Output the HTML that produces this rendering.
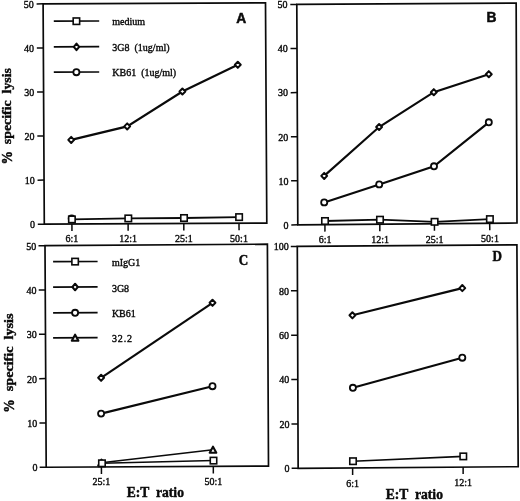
<!DOCTYPE html>
<html><head><meta charset="utf-8"><title>Figure</title>
<style>
html,body{margin:0;padding:0;background:#fff;}
body{width:520px;height:501px;overflow:hidden;}
svg{display:block;will-change:transform;opacity:0.999}
svg *{stroke:#0a0a0a}
text{stroke:#0a0a0a;stroke-width:0.38px;fill:#0a0a0a;font-family:"Liberation Serif",serif;}
.t{font-size:10px}
.sb{font-family:"Liberation Sans",sans-serif;font-weight:bold;font-size:13.8px;stroke-width:0.5px}
.rb{font-weight:bold;font-size:14.1px;stroke-width:0.45px}
.ab{font-weight:bold;font-size:14.2px;stroke-width:0.45px}
.yb{font-weight:bold;font-size:14px;stroke-width:0.45px}
.m{fill:#fff}
</style></head><body>
<svg width="520" height="501" viewBox="0 0 520 501">
<rect x="0" y="0" width="520" height="501" fill="#fff" stroke="none" style="stroke:none"/>
<path d="M43.1 3.85L265.5 2.9L266.8 223.1L44.3 224.15Z" fill="none" stroke-width="1.7" stroke-linejoin="miter"/>
<line x1="36.6" y1="3.9" x2="43.1" y2="3.85" stroke-width="1.5"/>
<text x="33.69" y="7.75" text-anchor="end" class="t">50</text>
<line x1="36.84" y1="47.96" x2="43.34" y2="47.91" stroke-width="1.5"/>
<text x="33.93" y="51.81" text-anchor="end" class="t">40</text>
<line x1="37.08" y1="92.02" x2="43.58" y2="91.97" stroke-width="1.5"/>
<text x="34.17" y="95.87" text-anchor="end" class="t">30</text>
<line x1="37.32" y1="136.08" x2="43.82" y2="136.03" stroke-width="1.5"/>
<text x="34.41" y="139.93" text-anchor="end" class="t">20</text>
<line x1="37.56" y1="180.14" x2="44.06" y2="180.09" stroke-width="1.5"/>
<text x="34.65" y="183.99" text-anchor="end" class="t">10</text>
<line x1="37.8" y1="224.2" x2="44.3" y2="224.15" stroke-width="1.5"/>
<text x="34.89" y="228.05" text-anchor="end" class="t">0</text>
<path d="M296.8 4.4L516.15 3.15L517 223L297.8 224.85Z" fill="none" stroke-width="1.7" stroke-linejoin="miter"/>
<line x1="290.3" y1="4.45" x2="296.8" y2="4.4" stroke-width="1.5"/>
<text x="287.59" y="8.3" text-anchor="end" class="t">50</text>
<line x1="290.5" y1="48.54" x2="297" y2="48.49" stroke-width="1.5"/>
<text x="287.79" y="52.39" text-anchor="end" class="t">40</text>
<line x1="290.7" y1="92.63" x2="297.2" y2="92.58" stroke-width="1.5"/>
<text x="287.99" y="96.48" text-anchor="end" class="t">30</text>
<line x1="290.9" y1="136.72" x2="297.4" y2="136.67" stroke-width="1.5"/>
<text x="288.19" y="140.57" text-anchor="end" class="t">20</text>
<line x1="291.1" y1="180.81" x2="297.6" y2="180.76" stroke-width="1.5"/>
<text x="288.39" y="184.66" text-anchor="end" class="t">10</text>
<line x1="291.3" y1="224.9" x2="297.8" y2="224.85" stroke-width="1.5"/>
<text x="288.59" y="228.75" text-anchor="end" class="t">0</text>
<path d="M45 245.65L267.4 244.2L268.5 466.15L46.2 467.25Z" fill="none" stroke-width="1.7" stroke-linejoin="miter"/>
<line x1="38.5" y1="245.7" x2="45" y2="245.65" stroke-width="1.5"/>
<text x="36.19" y="249.55" text-anchor="end" class="t">50</text>
<line x1="38.74" y1="290.02" x2="45.24" y2="289.97" stroke-width="1.5"/>
<text x="36.43" y="293.87" text-anchor="end" class="t">40</text>
<line x1="38.98" y1="334.34" x2="45.48" y2="334.29" stroke-width="1.5"/>
<text x="36.67" y="338.19" text-anchor="end" class="t">30</text>
<line x1="39.22" y1="378.66" x2="45.72" y2="378.61" stroke-width="1.5"/>
<text x="36.91" y="382.51" text-anchor="end" class="t">20</text>
<line x1="39.46" y1="422.98" x2="45.96" y2="422.93" stroke-width="1.5"/>
<text x="37.15" y="426.83" text-anchor="end" class="t">10</text>
<line x1="39.7" y1="467.3" x2="46.2" y2="467.25" stroke-width="1.5"/>
<text x="37.39" y="471.15" text-anchor="end" class="t">0</text>
<path d="M297.3 246.4L516.9 244.9L518.2 466.7L298.15 468.3Z" fill="none" stroke-width="1.7" stroke-linejoin="miter"/>
<line x1="290.8" y1="246.45" x2="297.3" y2="246.4" stroke-width="1.5"/>
<text x="288.74" y="250.3" text-anchor="end" class="t">100</text>
<line x1="290.97" y1="290.83" x2="297.47" y2="290.78" stroke-width="1.5"/>
<text x="288.91" y="294.68" text-anchor="end" class="t">80</text>
<line x1="291.14" y1="335.21" x2="297.64" y2="335.16" stroke-width="1.5"/>
<text x="289.08" y="339.06" text-anchor="end" class="t">60</text>
<line x1="291.31" y1="379.59" x2="297.81" y2="379.54" stroke-width="1.5"/>
<text x="289.25" y="383.44" text-anchor="end" class="t">40</text>
<line x1="291.48" y1="423.97" x2="297.98" y2="423.92" stroke-width="1.5"/>
<text x="289.42" y="427.82" text-anchor="end" class="t">20</text>
<line x1="291.65" y1="468.35" x2="298.15" y2="468.3" stroke-width="1.5"/>
<text x="289.59" y="472.2" text-anchor="end" class="t">0</text>
<line x1="71.9" y1="224.02" x2="71.95" y2="231.02" stroke-width="1.5"/>
<text x="71.9" y="242.42" text-anchor="middle" class="t">6:1</text>
<line x1="128.1" y1="223.75" x2="128.15" y2="230.75" stroke-width="1.5"/>
<text x="128.1" y="242.15" text-anchor="middle" class="t">12:1</text>
<line x1="183.8" y1="223.49" x2="183.85" y2="230.49" stroke-width="1.5"/>
<text x="183.8" y="241.89" text-anchor="middle" class="t">25:1</text>
<line x1="239" y1="223.23" x2="239.05" y2="230.23" stroke-width="1.5"/>
<text x="239" y="241.63" text-anchor="middle" class="t">50:1</text>
<line x1="324.9" y1="224.62" x2="324.95" y2="231.62" stroke-width="1.5"/>
<text x="325.2" y="243.42" text-anchor="middle" class="t">6:1</text>
<line x1="379.8" y1="224.16" x2="379.85" y2="231.16" stroke-width="1.5"/>
<text x="380.1" y="242.96" text-anchor="middle" class="t">12:1</text>
<line x1="434.4" y1="223.7" x2="434.45" y2="230.7" stroke-width="1.5"/>
<text x="434.7" y="242.5" text-anchor="middle" class="t">25:1</text>
<line x1="489.7" y1="223.23" x2="489.75" y2="230.23" stroke-width="1.5"/>
<text x="490" y="242.03" text-anchor="middle" class="t">50:1</text>
<line x1="101.4" y1="466.98" x2="101.45" y2="473.98" stroke-width="1.5"/>
<text x="101.4" y="485.18" text-anchor="middle" class="t">25:1</text>
<line x1="213.3" y1="466.42" x2="213.35" y2="473.42" stroke-width="1.5"/>
<text x="213.3" y="484.62" text-anchor="middle" class="t">50:1</text>
<line x1="352.6" y1="467.9" x2="352.65" y2="474.9" stroke-width="1.5"/>
<text x="352.6" y="486.5" text-anchor="middle" class="t">6:1</text>
<line x1="463.1" y1="467.1" x2="463.15" y2="474.1" stroke-width="1.5"/>
<text x="463.1" y="485.7" text-anchor="middle" class="t">12:1</text>
<circle cx="71.7" cy="218.45" r="3.05" stroke-width="1.8" class="m"/>
<path d="M71.9 219.4L128.3 218.4L184 218L239.1 217.1" fill="none" stroke-width="1.85"/>
<rect x="68.68" y="216.18" width="6.45" height="6.45" stroke-width="1.6" class="m"/>
<rect x="125.08" y="215.18" width="6.45" height="6.45" stroke-width="1.6" class="m"/>
<rect x="180.78" y="214.78" width="6.45" height="6.45" stroke-width="1.6" class="m"/>
<rect x="235.88" y="213.88" width="6.45" height="6.45" stroke-width="1.6" class="m"/>
<path d="M71.2 139.9L127.2 126.4L182.4 91.5L237.8 64.8" fill="none" stroke-width="2.15"/>
<path d="M71.2 136.85L74.15 139.9L71.2 142.95L68.25 139.9Z" stroke-width="1.95" stroke-linejoin="round" class="m"/>
<path d="M127.2 123.35L130.15 126.4L127.2 129.45L124.25 126.4Z" stroke-width="1.95" stroke-linejoin="round" class="m"/>
<path d="M182.4 88.45L185.35 91.5L182.4 94.55L179.45 91.5Z" stroke-width="1.95" stroke-linejoin="round" class="m"/>
<path d="M237.8 61.75L240.75 64.8L237.8 67.85L234.85 64.8Z" stroke-width="1.95" stroke-linejoin="round" class="m"/>
<path d="M325 221L380 219.7L434.6 221.8L489.9 219.1" fill="none" stroke-width="1.8"/>
<rect x="321.77" y="217.78" width="6.45" height="6.45" stroke-width="1.6" class="m"/>
<rect x="376.77" y="216.47" width="6.45" height="6.45" stroke-width="1.6" class="m"/>
<rect x="431.38" y="218.58" width="6.45" height="6.45" stroke-width="1.6" class="m"/>
<rect x="486.67" y="215.88" width="6.45" height="6.45" stroke-width="1.6" class="m"/>
<path d="M324.2 202.4L379.2 184.4L434 166.3L488.8 122.3" fill="none" stroke-width="2.15"/>
<circle cx="324.2" cy="202.4" r="3.05" stroke-width="1.8" class="m"/>
<circle cx="379.2" cy="184.4" r="3.05" stroke-width="1.8" class="m"/>
<circle cx="434" cy="166.3" r="3.05" stroke-width="1.8" class="m"/>
<circle cx="488.8" cy="122.3" r="3.05" stroke-width="1.8" class="m"/>
<path d="M324.2 175.9L379.1 127L433.8 92.2L488.8 74.2" fill="none" stroke-width="2.15"/>
<path d="M324.2 172.85L327.15 175.9L324.2 178.95L321.25 175.9Z" stroke-width="1.95" stroke-linejoin="round" class="m"/>
<path d="M379.1 123.95L382.05 127L379.1 130.05L376.15 127Z" stroke-width="1.95" stroke-linejoin="round" class="m"/>
<path d="M433.8 89.15L436.75 92.2L433.8 95.25L430.85 92.2Z" stroke-width="1.95" stroke-linejoin="round" class="m"/>
<path d="M488.8 71.15L491.75 74.2L488.8 77.25L485.85 74.2Z" stroke-width="1.95" stroke-linejoin="round" class="m"/>
<path d="M101.5 462.7L213 449.8" fill="none" stroke-width="1.5"/>
<path d="M101.5 459.6L104.8 465.7L98.2 465.7Z" stroke-width="2.1" stroke-linejoin="round" class="m"/>
<path d="M213 446.7L216.3 452.8L209.7 452.8Z" stroke-width="2.1" stroke-linejoin="round" class="m"/>
<path d="M101.95 463.3L213.5 460.6" fill="none" stroke-width="1.5"/>
<rect x="98.73" y="460.07" width="6.45" height="6.45" stroke-width="1.6" class="m"/>
<rect x="210.28" y="457.38" width="6.45" height="6.45" stroke-width="1.6" class="m"/>
<path d="M101.1 413.6L212.5 386.2" fill="none" stroke-width="2.15"/>
<circle cx="101.1" cy="413.6" r="3.05" stroke-width="1.8" class="m"/>
<circle cx="212.5" cy="386.2" r="3.05" stroke-width="1.8" class="m"/>
<path d="M101.1 377.8L212.5 302.8" fill="none" stroke-width="2.15"/>
<path d="M101.1 374.75L104.05 377.8L101.1 380.85L98.15 377.8Z" stroke-width="1.95" stroke-linejoin="round" class="m"/>
<path d="M212.5 299.75L215.45 302.8L212.5 305.85L209.55 302.8Z" stroke-width="1.95" stroke-linejoin="round" class="m"/>
<path d="M353 461.2L463.3 456.4" fill="none" stroke-width="1.6"/>
<rect x="349.77" y="457.97" width="6.45" height="6.45" stroke-width="1.6" class="m"/>
<rect x="460.07" y="453.17" width="6.45" height="6.45" stroke-width="1.6" class="m"/>
<path d="M352.9 387.8L462.3 357.7" fill="none" stroke-width="2.15"/>
<circle cx="352.9" cy="387.8" r="3.05" stroke-width="1.8" class="m"/>
<circle cx="462.3" cy="357.7" r="3.05" stroke-width="1.8" class="m"/>
<path d="M352.4 315.3L462.3 288.1" fill="none" stroke-width="2.15"/>
<path d="M352.4 312.25L355.35 315.3L352.4 318.35L349.45 315.3Z" stroke-width="1.95" stroke-linejoin="round" class="m"/>
<path d="M462.3 285.05L465.25 288.1L462.3 291.15L459.35 288.1Z" stroke-width="1.95" stroke-linejoin="round" class="m"/>
<line x1="53.8" y1="21.2" x2="99.2" y2="21" stroke-width="1.7"/>
<rect x="73.18" y="17.97" width="6.45" height="6.45" stroke-width="1.6" class="m"/>
<text x="112.3" y="25" text-anchor="start" class="t">medium</text>
<line x1="53.8" y1="46.9" x2="99.2" y2="46.7" stroke-width="1.7"/>
<path d="M76.5 43.6L79.2 46.9L76.5 50.2L73.8 46.9Z" stroke-width="2.0" stroke-linejoin="round" class="m"/>
<text x="112.3" y="50.8" text-anchor="start" class="t">3G8&#160;&#160;(1ug/ml)</text>
<line x1="53.8" y1="72.2" x2="99.2" y2="72" stroke-width="1.7"/>
<circle cx="76.4" cy="72.2" r="3.05" stroke-width="1.8" class="m"/>
<text x="112.3" y="76.3" text-anchor="start" class="t">KB61&#160;&#160;(1ug/ml)</text>
<line x1="53.1" y1="261.7" x2="97.6" y2="261.5" stroke-width="1.7"/>
<rect x="71.88" y="258.38" width="6.45" height="6.45" stroke-width="1.6" class="m"/>
<text x="111.9" y="265.5" text-anchor="start" class="t">mIgG1</text>
<line x1="53.1" y1="287.1" x2="97.6" y2="286.9" stroke-width="1.7"/>
<path d="M75.1 283.7L77.8 287L75.1 290.3L72.4 287Z" stroke-width="2.0" stroke-linejoin="round" class="m"/>
<text x="111.9" y="291.5" text-anchor="start" class="t">3G8</text>
<line x1="53.1" y1="312.9" x2="97.6" y2="312.7" stroke-width="1.7"/>
<circle cx="75.1" cy="312.8" r="3.05" stroke-width="1.8" class="m"/>
<text x="111.9" y="316.5" text-anchor="start" class="t">KB61</text>
<line x1="53.1" y1="337.9" x2="97.6" y2="337.7" stroke-width="1.7"/>
<path d="M75.1 334.7L78.4 340.8L71.8 340.8Z" stroke-width="2.1" stroke-linejoin="round" class="m"/>
<text x="111.9" y="341.6" text-anchor="start" class="t" letter-spacing="0.9">32.2</text>
<text x="241.3" y="23" text-anchor="middle" class="sb">A</text>
<text x="491.6" y="22.2" text-anchor="middle" class="sb">B</text>
<text transform="translate(243.5 265.3) scale(0.93,1)" text-anchor="middle" class="rb">C</text>
<text transform="translate(497.3 261.4) scale(0.93,1)" text-anchor="middle" class="rb">D</text>
<text transform="translate(155.3 496.9) scale(0.955,1)" text-anchor="middle" class="ab">E:T&#160;&#160;ratio</text>
<text transform="translate(414.3 499.2) scale(0.955,1)" text-anchor="middle" class="ab">E:T&#160;&#160;ratio</text>
<text transform="translate(11.0 68.0) rotate(-90) scale(0.99,0.92)" text-anchor="end" class="yb">specific&#160;&#160;lysis</text>
<text transform="translate(11.9 164.5) rotate(-90) scale(0.96,1.0)" text-anchor="start" class="yb">%</text>
<text transform="translate(13.4 313.5) rotate(-90) scale(1.01,0.92)" text-anchor="end" class="yb">specific&#160;&#160;lysis</text>
<text transform="translate(14.3 412.8) rotate(-90) scale(0.96,1.0)" text-anchor="start" class="yb">%</text>
</svg>
</body></html>
